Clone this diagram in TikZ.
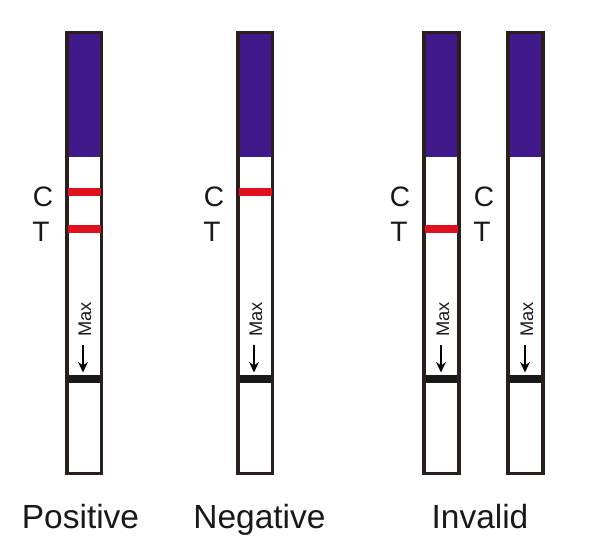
\documentclass[tikz,border=0pt]{standalone}
\usepackage{fontspec}
\setmainfont{Liberation Sans}
\usepackage{xcolor}
\usetikzlibrary{arrows.meta}
\definecolor{stripframe}{HTML}{2A1F1D}
\definecolor{padpurple}{HTML}{41198A}
\definecolor{bandred}{HTML}{E0101F}
\tikzset{
	bandline/.style={line width=0.2cm, color=bandred},
	letter/.style={font=\fontsize{20pt}{20pt}\selectfont, color=black!90},
	caption/.style={font=\fontsize{23.8pt}{24pt}\selectfont, color=black!90, anchor=base},
	maxlabel/.style={font=\fontsize{13pt}{13pt}\selectfont, rotate=90, color=black!90}
}

\begin{document}
\begin{tikzpicture}[x=0.025cm, y=0.025cm]
	%%%%% START %%%%%
	\useasboundingbox (0, 0) rectangle (608, -551);

	% strips
	\foreach \xa/\xb in {67/101.5, 238/272.5, 424/459, 508/543}{
		\fill[padpurple] (\xa, -32) rectangle (\xb, -157);
		\draw[line width=0.2cm, color=black!90] (\xa, -379.5) -- (\xb, -379.5);
		\draw[line width=0.085cm, color=stripframe] (\xa, -32.5) rectangle (\xb, -473.5);
	}

	% bands
	\draw[bandline] (68, -192.5) -- (101, -192.5);
	\draw[bandline] (68, -229.5) -- (101, -229.5);
	\draw[bandline] (239, -192.5) -- (272, -192.5);
	\draw[bandline] (425, -229.5) -- (458, -229.5);

	% letters
	\node[letter] (c1) at (43, -197) {C};
	\node[letter] (t1) at (41, -232) {T};
	\node[letter] (c2) at (214, -197) {C};
	\node[letter] (t2) at (212, -232) {T};
	\node[letter] (c3) at (400, -197) {C};
	\node[letter] (t3) at (399, -232) {T};
	\node[letter] (c4) at (484, -197) {C};
	\node[letter] (t4) at (482, -232) {T};

	% max marks
	\foreach \xm/\name in {83/a, 254/b, 441/c, 525/d}{
		\node[maxlabel] (max\name) at (\xm+2, -319.5) {Max};
		\coordinate (tail\name) at (\xm, -345);
		\coordinate (head\name) at (\xm, -372.5);
		\draw[-{Stealth[length=0.26cm, width=0.24cm]}, line width=0.045cm, color=black] (tail\name) -- (head\name);
	}

	% captions
	\node[caption] (positive) at (80.5, -529) {Positive};
	\node[caption] (negative) at (259.5, -529) {Negative};
	\node[caption] (invalid) at (480, -529) {Invalid};
	%%%%% END %%%%%
\end{tikzpicture}
\end{document}
